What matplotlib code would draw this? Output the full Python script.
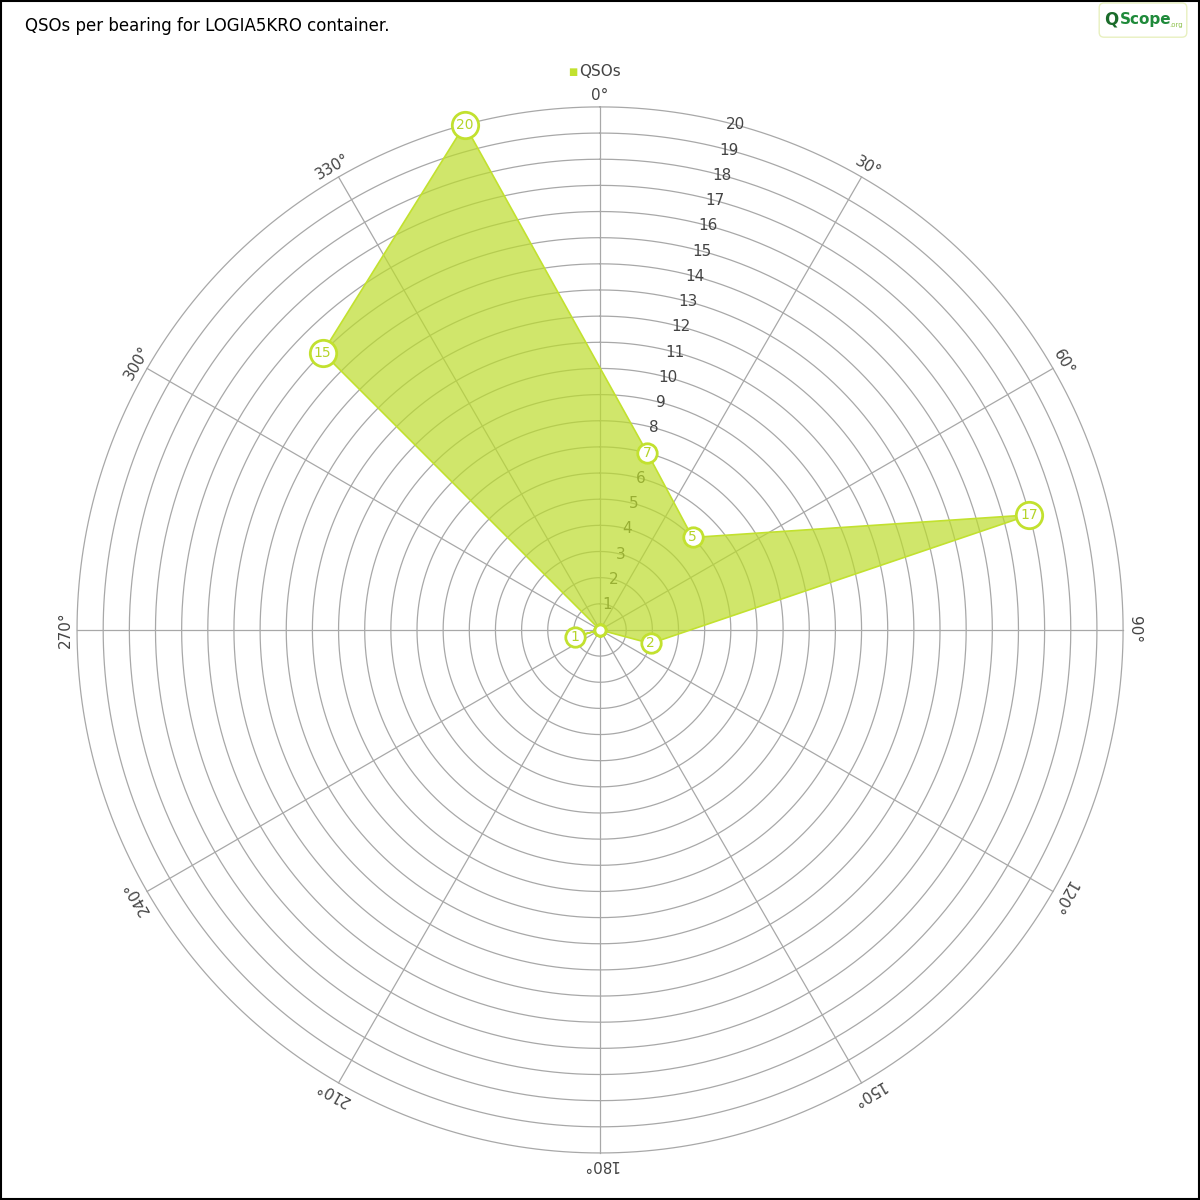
import numpy as np
import matplotlib.pyplot as plt
from matplotlib.patches import FancyBboxPatch

plt.rcParams["font.family"] = ["DejaVu Sans"]

# QSOs per 30 degree bearing sector
bearings = [15, 45, 75, 105, 135, 165, 195, 225, 255, 285, 315, 345]
qsos = [7, 5, 17, 2, 0, 0, 0, 0, 1, 0, 15, 20]
ring_values = list(range(1, 21))
spoke_angles = list(range(0, 360, 30))

line_col = "#c2e12f"
fill_col = "#bcdc2c"
grid_col = "#a8a8a8"

fig = plt.figure(figsize=(12, 12), dpi=100)
fig.patch.set_facecolor("white")

ax = fig.add_axes([0.0642, 0.0392, 0.8717, 0.8717], projection="polar")
ax.set_theta_zero_location("N")
ax.set_theta_direction(-1)
ax.set_ylim(0, 20)
ax.grid(False)
ax.spines["polar"].set_visible(False)
ax.patch.set_visible(False)
ax.set_xticks([])
ax.set_yticks([])

# rings and spokes
t = np.linspace(0, 2 * np.pi, 721)
for r in ring_values:
    ax.plot(t, np.full_like(t, r), color=grid_col, lw=0.9, zorder=1, clip_on=False)
for a in spoke_angles:
    ax.plot([np.deg2rad(a)] * 2, [0, 20], color=grid_col, lw=0.9, zorder=1, clip_on=False)

# angular labels, rotated along the circle
for a in spoke_angles:
    ax.text(np.deg2rad(a), 20.45, f"{a}°", rotation=-a, ha="center", va="center",
            fontsize=11, color="#444444", rotation_mode="anchor")

# radial labels along 15 degrees
for r in ring_values:
    ax.text(np.deg2rad(15), r, str(r), ha="center", va="center",
            fontsize=11, color="#444444", zorder=2)

th = np.deg2rad(bearings + [bearings[0]])
vals = qsos + [qsos[0]]
ax.fill(th, vals, color=fill_col, alpha=0.7, zorder=3, lw=0, clip_on=False)
ax.plot(th, vals, color=line_col, lw=1.2, zorder=4, clip_on=False)

for b, v in zip(bearings, qsos):
    if v == 0:
        ax.plot(np.deg2rad(b), v, "o", ms=8, mfc="white", mec=line_col, mew=2, zorder=5)
    else:
        ms = 19 if v >= 10 else 14
        ax.plot(np.deg2rad(b), v, "o", ms=ms, mfc="white", mec=line_col, mew=2, zorder=5,
                clip_on=False)
        ax.text(np.deg2rad(b), v, str(v), ha="center", va="center", fontsize=10,
                color="#b5d42a", zorder=6)

# title, legend, logo
fig.text(0.021, 0.978, "QSOs per bearing for LOGIA5KRO container.", fontsize=12,
         ha="left", va="center", color="black")
fig.text(0.4775, 0.94, "■", fontsize=7, color=line_col, ha="center", va="center")
fig.text(0.4825, 0.94, "QSOs", fontsize=11, color="#444444", ha="left", va="center")

logo = FancyBboxPatch((0.918, 0.971), 0.069, 0.0245, boxstyle="round,pad=0.002,rounding_size=0.004",
                      transform=fig.transFigure, fc="white", ec="#e8f0c0", lw=1)
fig.patches.append(logo)
fig.text(0.926, 0.984, "Q", fontsize=12, fontweight="bold", color="#1a6b2a", ha="center", va="center")
fig.text(0.933, 0.984, "Scope", fontsize=11, fontweight="bold", color="#1f8a3a", ha="left", va="center")
fig.text(0.9745, 0.979, ".org", fontsize=5, color="#8cc04a", ha="left", va="center")

# figure border
border = plt.Rectangle((0.0005, 0.0005), 0.999, 0.999, transform=fig.transFigure,
                       fill=False, ec="black", lw=1.5)
fig.patches.append(border)

plt.savefig("out.png", dpi=100)
plt.close()
